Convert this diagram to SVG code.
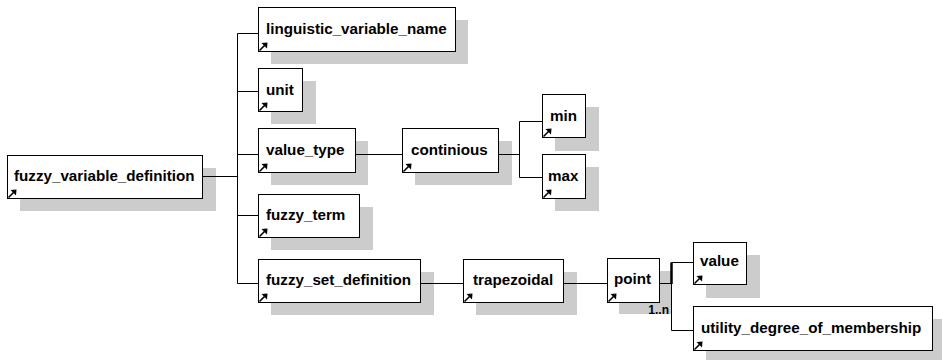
<svg xmlns="http://www.w3.org/2000/svg" width="942" height="360" viewBox="0 0 942 360">
  <style>
    .shadow { fill: #cccccc; stroke: none; }
    .box { fill: #ffffff; stroke: #000000; stroke-width: 1; }
    .label { font-family: "Liberation Sans", Arial, sans-serif; font-weight: bold; font-size: 15.2px; fill: #000000; }
    .mult { font-family: "Liberation Sans", Arial, sans-serif; font-weight: bold; font-size: 12px; fill: #000000; }
    .wire { fill: none; stroke: #000000; stroke-width: 1; }
    .ref { fill: none; stroke: #000000; stroke-width: 1.6; }
  </style>
  <defs>
    <!-- reference arrow drawn in the lower-left corner of every element box -->
    <g id="refArrow">
      <path class="ref" d="M0.5,-0.5 L5.5,-5.5"/>
      <path d="M8.5,-8.5 L2.5,-8 L8,-2.5 Z" fill="#000000"/>
    </g>
  </defs>

  <rect width="942" height="360" fill="#ffffff"/>

  <g id="fuzzy_variable_definition">
    <rect class="shadow" x="20" y="168" width="196" height="43"/>
    <rect class="box" x="7.5" y="155.5" width="195" height="43"/>
    <text class="label" x="14" y="181">fuzzy_variable_definition</text>
    <use href="#refArrow" x="8" y="198"/>
  </g>

  <g id="linguistic_variable_name">
    <rect class="shadow" x="271" y="20" width="197" height="44"/>
    <rect class="box" x="258.5" y="7.5" width="197" height="44"/>
    <text class="label" x="266" y="34">linguistic_variable_name</text>
    <use href="#refArrow" x="259" y="51"/>
  </g>

  <g id="unit">
    <rect class="shadow" x="271" y="81" width="45" height="43"/>
    <rect class="box" x="258.5" y="68.5" width="44" height="43"/>
    <text class="label" x="266" y="95">unit</text>
    <use href="#refArrow" x="259" y="111"/>
  </g>

  <g id="value_type">
    <rect class="shadow" x="271" y="141" width="97" height="44"/>
    <rect class="box" x="258.5" y="128.5" width="97" height="44"/>
    <text class="label" x="266" y="155">value_type</text>
    <use href="#refArrow" x="259" y="172"/>
  </g>

  <g id="fuzzy_term">
    <rect class="shadow" x="271" y="207" width="102" height="43"/>
    <rect class="box" x="258.5" y="194.5" width="101" height="43"/>
    <text class="label" x="266" y="220">fuzzy_term</text>
    <use href="#refArrow" x="259" y="237"/>
  </g>

  <g id="fuzzy_set_definition">
    <rect class="shadow" x="271" y="272" width="163" height="43"/>
    <rect class="box" x="258.5" y="259.5" width="162" height="43"/>
    <text class="label" x="266" y="285">fuzzy_set_definition</text>
    <use href="#refArrow" x="259" y="302"/>
  </g>

  <g id="continious">
    <rect class="shadow" x="415" y="141" width="97" height="44"/>
    <rect class="box" x="402.5" y="128.5" width="96" height="44"/>
    <text class="label" x="411" y="155">continious</text>
    <use href="#refArrow" x="403" y="172"/>
  </g>

  <g id="min">
    <rect class="shadow" x="555" y="107" width="44" height="44"/>
    <rect class="box" x="542.5" y="94.5" width="43" height="43"/>
    <text class="label" x="550" y="121">min</text>
    <use href="#refArrow" x="543" y="137"/>
  </g>

  <g id="max">
    <rect class="shadow" x="555" y="167" width="44" height="44"/>
    <rect class="box" x="542.5" y="154.5" width="43" height="44"/>
    <text class="label" x="548" y="181">max</text>
    <use href="#refArrow" x="543" y="198"/>
  </g>

  <g id="trapezoidal">
    <rect class="shadow" x="476" y="272" width="101" height="43"/>
    <rect class="box" x="463.5" y="259.5" width="100" height="43"/>
    <text class="label" x="473" y="285">trapezoidal</text>
    <use href="#refArrow" x="464" y="302"/>
  </g>

  <g id="point">
    <rect class="shadow" x="619" y="271" width="53" height="43"/>
    <rect class="box" x="607.5" y="258.5" width="52" height="44"/>
    <text class="label" x="614" y="284">point</text>
    <use href="#refArrow" x="608" y="302"/>
    <text class="mult" x="669" y="314" text-anchor="end">1..n</text>
  </g>

  <g id="value">
    <rect class="shadow" x="706" y="255" width="54" height="43"/>
    <rect class="box" x="693.5" y="242.5" width="53" height="42"/>
    <text class="label" x="700" y="266">value</text>
    <use href="#refArrow" x="694" y="284"/>
  </g>

  <g id="utility_degree_of_membership">
    <rect class="shadow" x="706" y="319" width="240" height="44"/>
    <rect class="box" x="693.5" y="306.5" width="239" height="44"/>
    <text class="label" x="701" y="333">utility_degree_of_membership</text>
    <use href="#refArrow" x="694" y="350"/>
  </g>

  <!-- connectors, drawn last so they run over the drop shadows -->
  <g id="connectors">
    <path class="wire" d="M202,176.5 H237.5"/>
    <path class="wire" d="M237.5,33.5 V283.5"/>
    <path class="wire" d="M237.5,33.5 H258"/>
    <path class="wire" d="M237.5,91.5 H258"/>
    <path class="wire" d="M237.5,154.5 H258"/>
    <path class="wire" d="M237.5,215.5 H258"/>
    <path class="wire" d="M237.5,283.5 H258"/>
    <path class="wire" d="M355,154.5 H402"/>
    <path class="wire" d="M498,154.5 H519.5"/>
    <path class="wire" d="M519.5,121.5 V177.5"/>
    <path class="wire" d="M519.5,121.5 H542"/>
    <path class="wire" d="M519.5,177.5 H542"/>
    <path class="wire" d="M420,283.5 H463"/>
    <path class="wire" d="M563,283.5 H607"/>
    <path class="wire" d="M659,283.5 H671.5"/>
    <path class="wire" d="M671.5,262.5 V330.5"/>
    <path d="M671.5,262.5 V284" fill="none" stroke="#000000" stroke-width="2.5"/>
    <path class="wire" d="M671.5,262.5 H693"/>
    <path class="wire" d="M671.5,330.5 H693"/>
  </g>
</svg>
